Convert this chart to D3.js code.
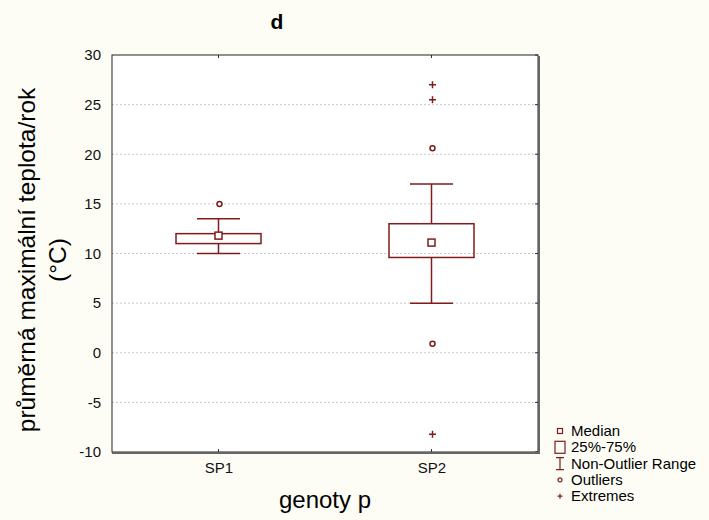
<!DOCTYPE html>
<html>
<head>
<meta charset="utf-8">
<script src="https://cdn.jsdelivr.net/npm/d3@7.9.0/dist/d3.min.js"></script>
<style>
  body { margin: 0; background: #fdfdf6; }
  svg { display: block; font-family: "Liberation Sans", Arial, sans-serif; }
</style>
</head>
<body>
<svg id="chart" width="709" height="520"></svg>
<script>
// data
const groups = ['SP1', 'SP2'];
const medians = [11.8, 11.1];
const q1 = [11.0, 9.6];
const q3 = [12.0, 13.0];
const whiskerLow = [10.0, 5.0];
const whiskerHigh = [13.5, 17.0];
const outliers = [[15.0], [20.6, 0.9]];
const extremes = [[], [27.0, 25.5, -8.2]];
const yTicks = [-10, -5, 0, 5, 10, 15, 20, 25, 30];
const legendItems = ['Median', '25%-75%', 'Non-Outlier Range', 'Outliers', 'Extremes'];

const red = '#7f1d1d';
const svg = d3.select('#chart');

const pLeft = 112, pRight = 538, pTop = 55, pBottom = 452;

const x = d3.scalePoint().domain(groups).range([pLeft, pRight]).padding(0.5);
const y = d3.scaleLinear().domain([-10, 30]).range([pBottom, pTop]);

// plot background
svg.append('rect')
  .attr('x', pLeft).attr('y', pTop)
  .attr('width', pRight - pLeft).attr('height', pBottom - pTop)
  .attr('fill', '#ffffff');

// dotted grid
svg.append('g')
  .selectAll('line')
  .data(yTicks.filter(d => d > -10 && d < 30))
  .join('line')
  .attr('x1', pLeft).attr('x2', pRight)
  .attr('y1', d => y(d)).attr('y2', d => y(d))
  .attr('stroke', '#c8c8c8')
  .attr('stroke-dasharray', '2,2');

// left axis
const yAxis = svg.append('g')
  .attr('transform', `translate(${pLeft},0)`)
  .call(d3.axisLeft(y).tickValues(yTicks).tickFormat(d => String(d)).tickSize(0).tickPadding(11));
yAxis.select('.domain').remove();
yAxis.selectAll('text').attr('font-size', 15).attr('fill', '#111');

// right ticks
svg.append('g')
  .selectAll('line')
  .data(yTicks)
  .join('line')
  .attr('x1', pRight - 3).attr('x2', pRight)
  .attr('y1', d => y(d)).attr('y2', d => y(d))
  .attr('stroke', '#333');

// bottom axis
const xAxis = svg.append('g')
  .attr('transform', `translate(0,${pBottom})`)
  .call(d3.axisBottom(x).tickSize(0).tickPadding(10));
xAxis.select('.domain').remove();
xAxis.selectAll('text').attr('font-size', 15).attr('fill', '#111');

// ticks at categories (inside, top and bottom)
svg.append('g')
  .selectAll('line')
  .data(groups)
  .join('line')
  .attr('x1', d => x(d)).attr('x2', d => x(d))
  .attr('y1', pTop).attr('y2', pTop + 3)
  .attr('stroke', '#333');
svg.append('g')
  .selectAll('line')
  .data(groups)
  .join('line')
  .attr('x1', d => x(d)).attr('x2', d => x(d))
  .attr('y1', pBottom - 3).attr('y2', pBottom)
  .attr('stroke', '#333');

// frame
svg.append('rect')
  .attr('x', pLeft).attr('y', pTop)
  .attr('width', pRight - pLeft).attr('height', pBottom - pTop)
  .attr('fill', 'none')
  .attr('stroke', '#222').attr('stroke-width', 1);
svg.append('path')
  .attr('d', `M${pRight + 1},${pTop + 1}V${pBottom + 1}H${pLeft}`)
  .attr('fill', 'none')
  .attr('stroke', '#666').attr('stroke-width', 2);

// boxes
const boxW = 85, capW = 43;
const bx = svg.append('g');
groups.forEach((g, i) => {
  const cx = x(g);
  bx.append('line')
    .attr('x1', cx).attr('x2', cx)
    .attr('y1', y(whiskerHigh[i])).attr('y2', y(q3[i]))
    .attr('stroke', red).attr('stroke-width', 1.5);
  bx.append('line')
    .attr('x1', cx).attr('x2', cx)
    .attr('y1', y(q1[i])).attr('y2', y(whiskerLow[i]))
    .attr('stroke', red).attr('stroke-width', 1.5);
  [whiskerHigh[i], whiskerLow[i]].forEach(v => {
    bx.append('line')
      .attr('x1', cx - capW / 2).attr('x2', cx + capW / 2)
      .attr('y1', y(v)).attr('y2', y(v))
      .attr('stroke', red).attr('stroke-width', 1.5);
  });
  bx.append('rect')
    .attr('x', cx - boxW / 2).attr('y', y(q3[i]))
    .attr('width', boxW).attr('height', y(q1[i]) - y(q3[i]))
    .attr('fill', 'none').attr('stroke', red).attr('stroke-width', 1.5);
  bx.append('rect')
    .attr('x', cx - 3.5).attr('y', y(medians[i]) - 3.5)
    .attr('width', 7).attr('height', 7)
    .attr('fill', '#fff').attr('stroke', red).attr('stroke-width', 1.5);
  outliers[i].forEach(v => {
    bx.append('circle')
      .attr('cx', cx + 1).attr('cy', y(v)).attr('r', 2.5)
      .attr('fill', 'none').attr('stroke', red).attr('stroke-width', 1.5);
  });
  extremes[i].forEach(v => {
    bx.append('path')
      .attr('d', `M${cx - 3.5 + 1},${y(v)}h7M${cx + 1},${y(v) - 3.5}v7`)
      .attr('stroke', red).attr('stroke-width', 1.5);
  });
});

// titles
svg.append('text')
  .attr('x', 277).attr('y', 29)
  .attr('text-anchor', 'middle')
  .attr('font-size', 21).attr('font-weight', 'bold')
  .text('d');

svg.append('text')
  .attr('x', 325).attr('y', 508)
  .attr('text-anchor', 'middle')
  .attr('font-size', 24)
  .text('genoty p');

const yl = svg.append('text')
  .attr('transform', `translate(35,260) rotate(-90)`)
  .attr('text-anchor', 'middle')
  .attr('font-size', 24.5);
yl.append('tspan').attr('x', 0).attr('dy', 0).text('průměrná maximální teplota/rok');
yl.append('tspan').attr('x', 0).attr('dy', 31).text('(°C)');

// legend
const lg = svg.append('g').attr('transform', 'translate(560,431)');
const rowH = 16.3;
legendItems.forEach((t, i) => {
  const row = lg.append('g').attr('transform', `translate(0,${i * rowH})`);
  if (i === 0) {
    row.append('rect').attr('x', -2.5).attr('y', -2.5).attr('width', 5).attr('height', 5)
      .attr('fill', 'none').attr('stroke', red).attr('stroke-width', 1.2);
  } else if (i === 1) {
    row.append('rect').attr('x', -5).attr('y', -6).attr('width', 10).attr('height', 12)
      .attr('fill', 'none').attr('stroke', red).attr('stroke-width', 1.2);
  } else if (i === 2) {
    row.append('path').attr('d', 'M-4,-6h8M0,-6v12M-4,6h8')
      .attr('fill', 'none').attr('stroke', red).attr('stroke-width', 1.2);
  } else if (i === 3) {
    row.append('circle').attr('r', 2).attr('fill', 'none')
      .attr('stroke', red).attr('stroke-width', 1.2);
  } else {
    row.append('path').attr('d', 'M-2.5,0h5M0,-2.5v5')
      .attr('stroke', red).attr('stroke-width', 1.2);
  }
  row.append('text')
    .attr('x', 11).attr('y', 5)
    .attr('font-size', 15)
    .text(t);
});
</script>
</body>
</html>
